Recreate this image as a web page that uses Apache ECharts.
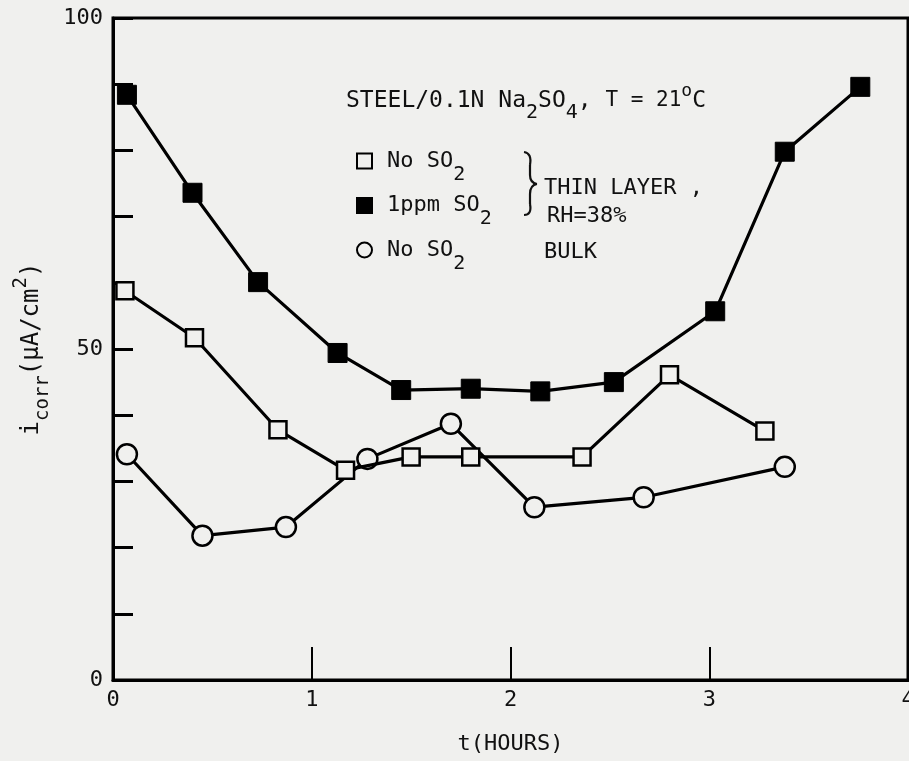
<!DOCTYPE html>
<html>
<head>
<meta charset="utf-8">
<script src="https://cdn.jsdelivr.net/npm/echarts@6/dist/echarts.min.js"></script>
<style>
html,body{margin:0;padding:0;background:#f0f0ee;}
#chart{width:909px;height:761px;}
</style>
</head>
<body>
<div id="chart"></div>
<script>
// ---- data ----
const seriesNames = ['No SO2 thin', '1ppm SO2', 'No SO2 bulk'];
const tNoSO2Thin = [0.06, 0.41, 0.83, 1.17, 1.50, 1.80, 2.36, 2.80, 3.28];
const iNoSO2Thin = [58.8, 51.7, 37.8, 31.7, 33.7, 33.7, 33.7, 46.1, 37.6];
const tSO2 = [0.07, 0.40, 0.73, 1.13, 1.45, 1.80, 2.15, 2.52, 3.03, 3.38, 3.76];
const iSO2 = [88.4, 73.6, 60.1, 49.4, 43.8, 44.0, 43.6, 45.0, 55.7, 79.8, 89.6];
const tBulk = [0.07, 0.45, 0.87, 1.28, 1.70, 2.12, 2.67, 3.38];
const iBulk = [34.1, 21.8, 23.1, 33.4, 38.7, 26.1, 27.6, 32.2];
const yLabelValues = [0, 50, 100];

const BG = '#f0f0ee';
const INK = '#111';
const FONT = '"DejaVu Sans Mono", "Liberation Mono", monospace';
const zip = (a, b) => a.map((v, i) => [v, b[i]]);

const chart = echarts.init(document.getElementById('chart'));
const lineStyle = { color: '#000', width: 3.2 };

const legendLabels = {
  'No SO2 thin': '{a|No SO}{s|2}',
  '1ppm SO2': '{a|1ppm SO}{s|2}',
  'No SO2 bulk': '{a|No SO}{s|2}'
};

const braceStyle = { stroke: INK, lineWidth: 2.2, fill: null };
const curve = (x1, y1, cx, cy, x2, y2) => ({ type: 'bezierCurve', shape: { x1, y1, cpx1: cx, cpy1: cy, x2, y2 }, style: braceStyle });
const seg = (x1, y1, x2, y2) => ({ type: 'line', shape: { x1, y1, x2, y2 }, style: braceStyle });

chart.setOption({
  backgroundColor: BG,
  animation: false,
  grid: {
    left: 113, right: 1, top: 18, bottom: 81, outerBoundsMode: 'none', containLabel: false,
    show: true, borderColor: '#000', borderWidth: 3, backgroundColor: 'transparent'
  },
  xAxis: {
    type: 'value', min: 0, max: 4, interval: 1,
    name: 't(HOURS)', nameLocation: 'middle', nameGap: 53,
    nameTextStyle: { fontFamily: FONT, fontSize: 22, color: INK },
    axisLine: { lineStyle: { color: '#000', width: 3 } },
    axisTick: { inside: true, length: 33, lineStyle: { color: '#000', width: 2 } },
    axisLabel: { fontFamily: FONT, fontSize: 22, color: INK, margin: 9 },
    splitLine: { show: false }
  },
  yAxis: {
    type: 'value', min: 0, max: 100, interval: 10,
    name: '{a|i}{s|corr}{a|(µA/cm}{p|2}{a|)}', nameLocation: 'middle', nameGap: 49, nameRotate: 90,
    nameTextStyle: {
      fontFamily: FONT, color: INK,
      rich: {
        a: { fontFamily: FONT, fontSize: 24, color: INK },
        s: { fontFamily: FONT, fontSize: 19, color: INK, padding: [22, 0, 0, 0] },
        p: { fontFamily: FONT, fontSize: 19, color: INK, padding: [0, 0, 22, 0] }
      }
    },
    axisLine: { lineStyle: { color: '#000', width: 3 } },
    axisTick: { inside: true, length: 20, lineStyle: { color: '#000', width: 3 } },
    axisLabel: {
      fontFamily: FONT, fontSize: 22, color: INK, margin: 10,
      formatter: v => (yLabelValues.indexOf(v) >= 0 ? String(v) : '')
    },
    splitLine: { show: false }
  },
  legend: {
    orient: 'vertical', left: 351, top: 145, itemGap: 10,
    itemWidth: 15, itemHeight: 15, selectedMode: false,
    data: [
      { name: seriesNames[0], icon: 'rect' },
      { name: seriesNames[1], icon: 'rect' },
      { name: seriesNames[2], icon: 'circle' }
    ],
    formatter: n => legendLabels[n],
    textStyle: {
      fontFamily: FONT, color: INK,
      rich: {
        a: { fontFamily: FONT, fontSize: 22, color: INK, padding: [0, 0, 0, 10] },
        s: { fontFamily: FONT, fontSize: 20, color: INK, padding: [27, 0, 0, 0] }
      }
    }
  },
  series: [
    {
      name: seriesNames[0], type: 'line', data: zip(tNoSO2Thin, iNoSO2Thin),
      symbol: 'rect', symbolSize: 17, lineStyle,
      itemStyle: { color: BG, borderColor: '#000', borderWidth: 2.5 }, z: 3
    },
    {
      name: seriesNames[1], type: 'line', data: zip(tSO2, iSO2),
      symbol: 'rect', symbolSize: 19, lineStyle,
      itemStyle: { color: '#000', borderColor: '#000', borderWidth: 1 }, z: 3
    },
    {
      name: seriesNames[2], type: 'line', data: zip(tBulk, iBulk),
      symbol: 'circle', symbolSize: 20, lineStyle,
      itemStyle: { color: BG, borderColor: '#000', borderWidth: 2.5 }, z: 2
    }
  ],
  graphic: [
    {
      type: 'text', left: 346, top: 82,
      style: {
        text: '{a|STEEL/0.1N Na}{s|2}{a|SO}{s|4}{a|, }{t|T = 21}{p|o}{a|C}',
        fill: INK,
        rich: {
          a: { fontFamily: FONT, fontSize: 23, fill: INK },
          t: { fontFamily: FONT, fontSize: 21, fill: INK },
          s: { fontFamily: FONT, fontSize: 20, fill: INK, padding: [24, 0, 0, 0] },
          p: { fontFamily: FONT, fontSize: 18, fill: INK, padding: [0, 0, 20, 0] }
        }
      }
    },
    curve(524, 152, 532, 153, 530, 165),
    seg(530, 165, 530, 175),
    curve(530, 175, 530, 183, 537, 184),
    curve(537, 184, 530, 185, 530, 194),
    seg(530, 194, 530, 204),
    curve(530, 204, 532, 215, 524, 215),
    { type: 'text', left: 544, top: 177, style: { text: 'THIN LAYER ,', font: '22px ' + FONT, fill: INK } },
    { type: 'text', left: 547, top: 205, style: { text: 'RH=38%', font: '22px ' + FONT, fill: INK } },
    { type: 'text', left: 544, top: 241, style: { text: 'BULK', font: '22px ' + FONT, fill: INK } }
  ]
});
</script>
</body>
</html>
